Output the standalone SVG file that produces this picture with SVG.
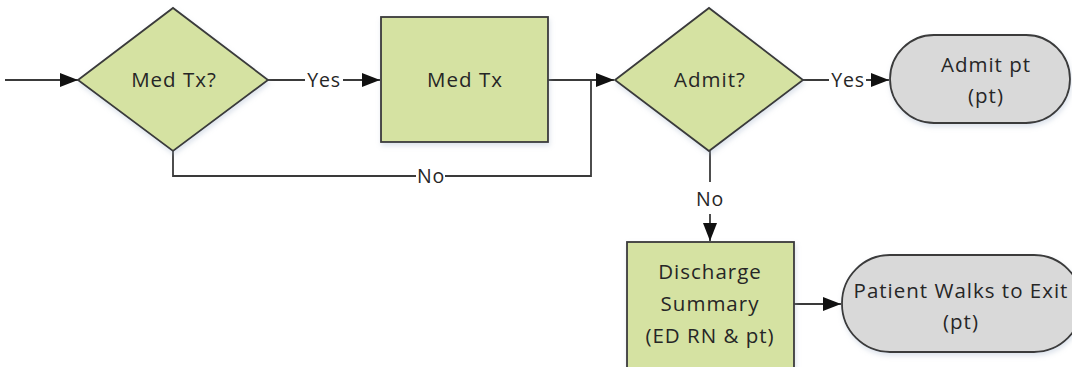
<svg xmlns="http://www.w3.org/2000/svg" width="1072" height="367" viewBox="0 0 1072 367">
  <style>
    .proc { fill: #d5e2a2; stroke: #3a3a3a; stroke-width: 1.8; }
    .term { fill: #d9d9d9; stroke: #3a3a3a; stroke-width: 1.8; }
    .conn { fill: none; stroke: #3a3a3a; stroke-width: 1.8; }
    .lbl { font-family: "Open Sans", "Liberation Sans", sans-serif; font-size: 20.5px; fill: #262626; text-anchor: middle; letter-spacing: 1px; }
    .elbl { font-family: "Open Sans", "Liberation Sans", sans-serif; font-size: 19.5px; fill: #262626; text-anchor: middle; letter-spacing: 0.8px; }
    .bg { fill: #ffffff; }
  </style>
  <defs>
    <marker id="arrow" viewBox="0 0 18 14" refX="18" refY="7" markerWidth="18" markerHeight="14" markerUnits="userSpaceOnUse" orient="auto">
      <path d="M0,0 L18,7 L0,14 Z" fill="#111111"/>
    </marker>
    <filter id="shadow" x="-10%" y="-10%" width="130%" height="140%">
      <feGaussianBlur in="SourceAlpha" stdDeviation="2.5"/>
      <feOffset dx="1" dy="3" result="b"/>
      <feFlood flood-color="#9fb0c8" flood-opacity="0.35"/>
      <feComposite in2="b" operator="in"/>
      <feMerge><feMergeNode/><feMergeNode in="SourceGraphic"/></feMerge>
    </filter>
  </defs>
  <rect class="bg" x="0" y="0" width="1072" height="367"/>

  <!-- connectors -->
  <g id="connectors">
    <line class="conn" x1="5" y1="80" x2="78" y2="80" marker-end="url(#arrow)"/>
    <line class="conn" x1="268" y1="80" x2="380" y2="80" marker-end="url(#arrow)"/>
    <polyline class="conn" points="548,80 591,80"/>
    <polyline class="conn" points="173,151 173,176 591,176 591,80 614,80" marker-end="url(#arrow)"/>
    <line class="conn" x1="803" y1="80" x2="889" y2="80" marker-end="url(#arrow)"/>
    <line class="conn" x1="710" y1="151" x2="710" y2="182"/>
    <line class="conn" x1="710" y1="214" x2="710" y2="241" marker-end="url(#arrow)"/>
    <line class="conn" x1="794" y1="304" x2="841" y2="304" marker-end="url(#arrow)"/>
    <!-- edge labels on white knockouts -->
    <rect class="bg" x="305" y="70" width="38" height="20"/>
    <text class="elbl" x="324" y="87">Yes</text>
    <rect class="bg" x="416" y="166" width="29" height="20"/>
    <text class="elbl" x="431" y="183">No</text>
    <rect class="bg" x="829" y="70" width="37" height="20"/>
    <text class="elbl" x="848" y="87">Yes</text>
    <text class="elbl" x="710" y="206">No</text>
  </g>

  <g id="med-tx-decision">
    <polygon class="proc" points="78,80 173,8 268,80 173,151" filter="url(#shadow)"/>
    <text class="lbl" x="174" y="87">Med Tx?</text>
  </g>

  <g id="med-tx">
    <rect class="proc" x="381" y="17" width="167" height="125" filter="url(#shadow)"/>
    <text class="lbl" x="465" y="87">Med Tx</text>
  </g>

  <g id="admit-decision">
    <polygon class="proc" points="615,80 709,8 803,80 709,151" filter="url(#shadow)"/>
    <text class="lbl" x="710" y="87">Admit?</text>
  </g>

  <g id="admit-pt">
    <rect class="term" x="890" y="35" width="180" height="88" rx="44" ry="44" filter="url(#shadow)"/>
    <text class="lbl" x="986" y="72">Admit pt</text>
    <text class="lbl" x="986" y="103">(pt)</text>
  </g>

  <g id="discharge-summary">
    <rect class="proc" x="627" y="242" width="167" height="130" filter="url(#shadow)"/>
    <text class="lbl" x="710" y="279">Discharge</text>
    <text class="lbl" x="710" y="311">Summary</text>
    <text class="lbl" x="710" y="343">(ED RN &amp; pt)</text>
  </g>

  <g id="patient-exit">
    <rect class="term" x="842" y="255" width="240" height="97" rx="48" ry="48" filter="url(#shadow)"/>
    <text class="lbl" x="961" y="298">Patient Walks to Exit</text>
    <text class="lbl" x="961" y="329">(pt)</text>
  </g>
</svg>
